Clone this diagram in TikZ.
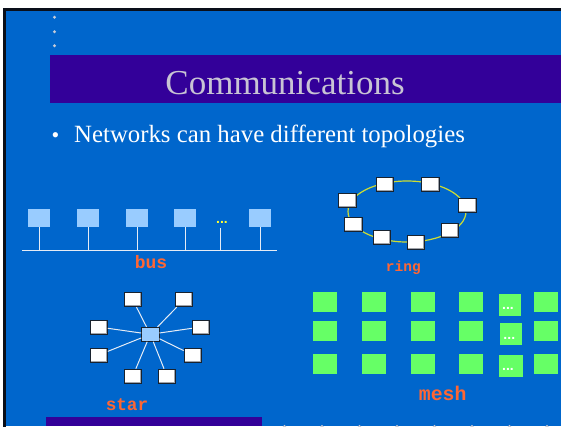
\documentclass[tikz,border=0pt]{standalone}
\usepackage{fontspec}
\setmainfont{Liberation Serif}
\newfontfamily\monob{Liberation Mono}
\newfontfamily\sansb{Liberation Sans}
\definecolor{bgblue}{HTML}{0066CC}
\definecolor{barpurple}{HTML}{330099}
\definecolor{titlegray}{HTML}{C8C4D4}
\definecolor{busblue}{HTML}{99CCFF}
\definecolor{wirewhite}{HTML}{E6ECF5}
\definecolor{ringyellow}{HTML}{CCDD33}
\definecolor{labelorange}{HTML}{FF6633}
\definecolor{meshgreen}{HTML}{66FF66}
\definecolor{boxedge}{HTML}{18222E}
\definecolor{shadowgray}{HTML}{A0A4AA}
\definecolor{dotgray}{HTML}{C8CCD8}
\definecolor{dotyellow}{HTML}{FFFF33}
\definecolor{frameblack}{HTML}{0A0F1A}
\tikzset{
  busbox/.style={rectangle, fill=busblue, minimum width=22bp, minimum height=17.7bp, inner sep=0},
  nodebox/.style={rectangle, fill=white, draw=boxedge, line width=0.9bp,
    minimum width=17.3bp, minimum height=14bp, inner sep=0,
    path picture={\draw[shadowgray, line width=3bp]
      (path picture bounding box.north east) -- (path picture bounding box.south east)
      -- (path picture bounding box.south west);}},
  hubbox/.style={rectangle, fill=busblue, draw=boxedge, line width=0.9bp,
    minimum width=17.3bp, minimum height=14bp, inner sep=0},
  meshbox/.style={rectangle, fill=meshgreen, minimum width=24bp, minimum height=20bp, inner sep=0},
  wire/.style={draw=wirewhite, line width=1bp},
  ringline/.style={draw=ringyellow, line width=1.2bp},
  lbl/.style={font={\monob\bfseries\fontsize{#1}{#1}\selectfont}, text=labelorange, anchor=base, inner sep=0},
  dotstext/.style={font={\sansb\bfseries\fontsize{14bp}{14bp}\selectfont}, anchor=base, inner sep=0},
}
\begin{document}
\begin{tikzpicture}[x=1bp,y=-1bp]
\useasboundingbox (0,0) rectangle (561,426);
\clip (0,0) rectangle (561,426);
% slide background and frame
\fill[white] (0,0) rectangle (561,426);
\fill[bgblue] (3,8) rectangle (561,426);
\draw[frameblack, line width=2.6bp] (4.3,430) -- (4.3,9.3) -- (565,9.3);
\fill[barpurple] (50,55) rectangle (561,102.7);
\fill[barpurple] (46,417) rectangle (262,426);
\foreach \y in {17.3,31.7,45.7} \fill[dotgray] (54.5,\y) circle [radius=1.6];
\foreach \i in {0,...,7} \fill[dotgray] (284.5+37.5*\i,426.6) circle [radius=1.8];
% title and bullet
\node[anchor=base, text=titlegray, font={\fontsize{35bp}{40bp}\selectfont}, inner sep=0] (title) at (285,94.3) {Communications};
\node[anchor=base, text=white, font={\fontsize{22bp}{26bp}\selectfont}, inner sep=0] (bullet) at (55.5,142.7) {•};
\node[anchor=base west, text=white, font={\fontsize{24.8bp}{28bp}\selectfont}, inner sep=0] (bullettext) at (74,142.7) {Networks can have different topologies};
% bus
\foreach \n/\x in {1/39,2/88,3/137,4/185,5/260} \node[busbox] (b\n) at (\x,217.8) {};
\coordinate (busL) at (22,250.3);
\coordinate (busR) at (277,250.3);
\draw[wire, line width=1.4bp] (busL) -- (busR);
\foreach \n in {1,...,5} \draw[wire] (b\n.south) -- (b\n.south |- busL);
\node[dotstext, text=dotyellow] (busdots) at (222,223.5) {...};
\coordinate (busdotsbot) at (220.7,227.7);
\draw[wire] (busdotsbot) -- (busdotsbot |- busL);
\node[lbl=18bp] (buslabel) at (151,268) {bus};
% ring
\coordinate (ringc) at (407,211.5);
\draw[ringline] (ringc) ellipse [x radius=59, y radius=30.5];
\foreach \n/\x/\y in {1/384.7/184.2, 2/430.3/184.2, 3/467.3/205.2, 4/450/230.8,
  5/416/242.5, 6/381.8/237.8, 7/353.3/224, 8/347.3/200.5}
  \node[nodebox, minimum width=17.5bp] (r\n) at (\x,\y) {};
\node[lbl=14.5bp] (ringlabel) at (403.3,271.7) {ring};
% star
\node[hubbox] (sc) at (150.3,334.3) {};
\foreach \n/\x/\y in {1/132.7/299.7, 2/184/299.7, 3/98.7/327, 4/201/327,
  5/98.7/355, 6/192.7/355, 7/132.7/376.2, 8/167/376.2}
  \node[nodebox] (s\n) at (\x,\y) {};
\foreach \n in {1,...,8} \draw[wire] (sc) -- (s\n);
\node[lbl=17.7bp] (starlabel) at (127,410.7) {star};
% mesh
\foreach \c/\x in {1/324.8,2/374,3/423,4/471,6/546}
  \foreach \r/\y in {1/302,2/331,3/363.5}
    \node[meshbox] (m\r\c) at (\x,\y) {};
\node[meshbox, minimum width=22bp, minimum height=22bp] (m15) at (510,305) {};
\node[meshbox, minimum width=22bp, minimum height=22bp] (m25) at (511,334) {};
\node[meshbox, minimum width=24bp, minimum height=22bp] (m35) at (511,366) {};
\node[dotstext, text=white] (md1) at (508,309.8) {...};
\node[dotstext, text=white] (md2) at (509.3,339.2) {...};
\node[dotstext, text=white] (md3) at (508,370.8) {...};
\node[lbl=19.8bp] (meshlabel) at (442.7,400.7) {mesh};
\end{tikzpicture}
\end{document}
